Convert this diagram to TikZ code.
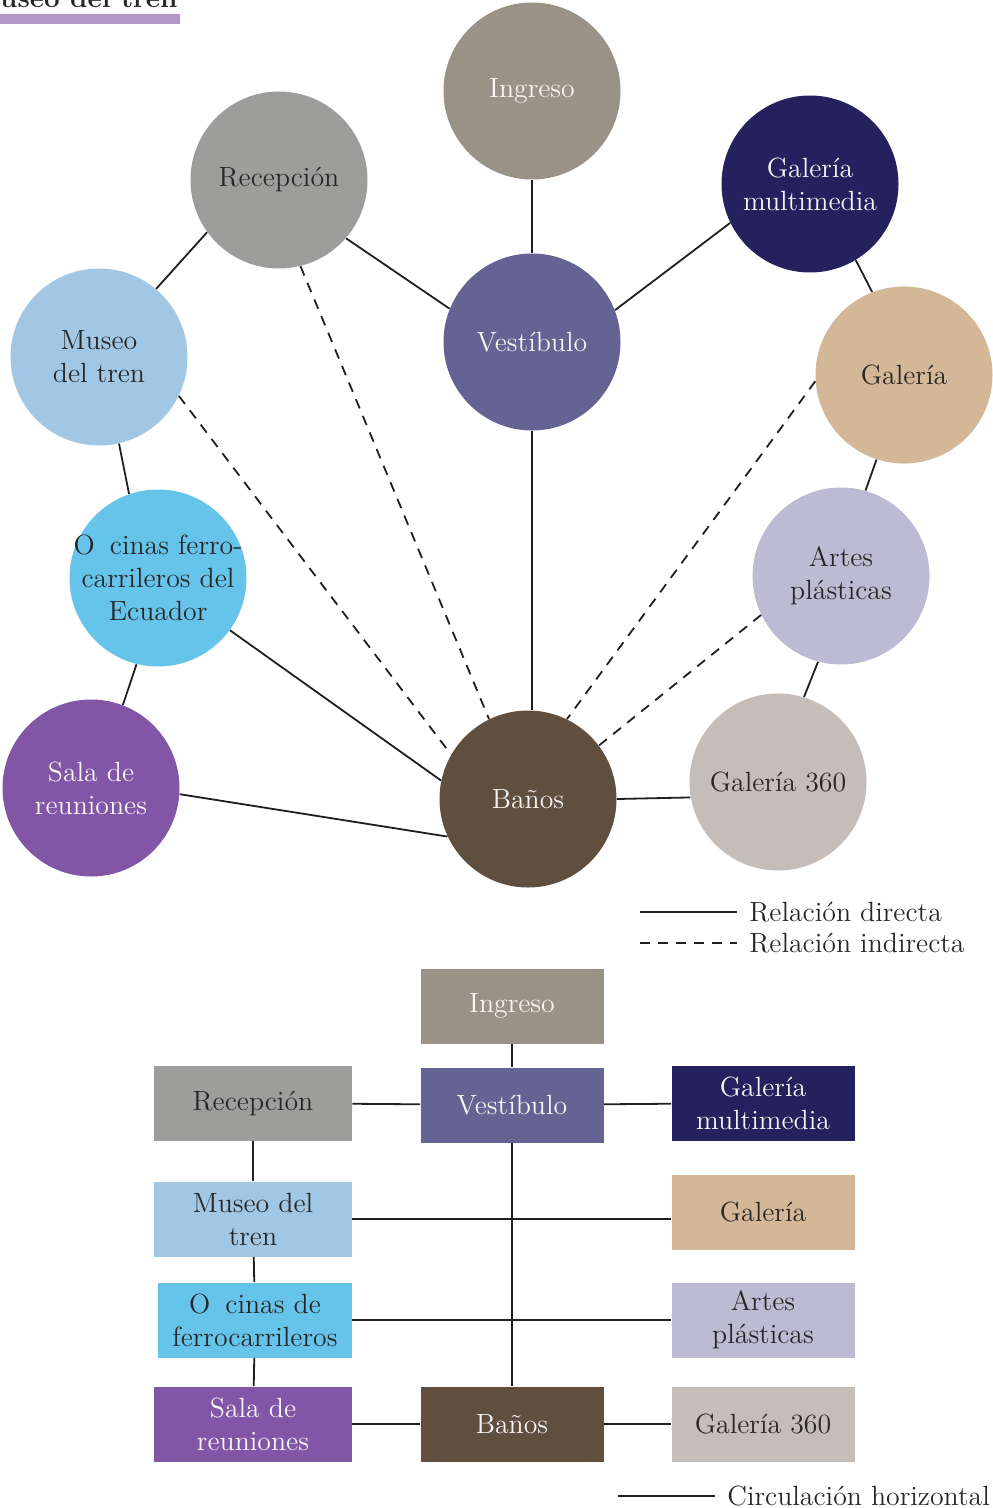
\documentclass[tikz,border=0pt]{standalone}
\usepackage{fontspec}
\usetikzlibrary{positioning}

\definecolor{cIngreso}{HTML}{9B9287}
\definecolor{cRecep}{HTML}{9D9D9C}
\definecolor{cMulti}{HTML}{25205E}
\definecolor{cMuseo}{HTML}{A1C7E4}
\definecolor{cVest}{HTML}{656393}
\definecolor{cGaleria}{HTML}{D4B797}
\definecolor{cOfic}{HTML}{66C3E9}
\definecolor{cArtes}{HTML}{BDBBD3}
\definecolor{cSala}{HTML}{8256A7}
\definecolor{cBanos}{HTML}{604E3F}
\definecolor{cGal360}{HTML}{C4BDB8}
\definecolor{cTitulo}{HTML}{B497C8}
\definecolor{txtOsc}{HTML}{262626}
\definecolor{txtCla}{HTML}{F8F6F4}

% hueco donde falta la ligadura fi
\newcommand{\figap}{\phantom{fi}}

\tikzset{
  zona/.style={circle, minimum size=88.5pt, inner sep=1pt, align=center, text=txtOsc},
  rotulo/.style={inner sep=0pt, align=center, text=txtOsc},
  bloque/.style={rectangle, minimum width=91.5pt, minimum height=37.5pt, inner sep=1pt, align=center, text=txtOsc},
  ancho/.style={minimum width=99pt},
  oscuro/.style={text=txtCla},
  rel/.style={draw=black!88, line width=0.9pt},
  relind/.style={rel, dash pattern=on 5pt off 4pt},
  leyenda/.style={right, inner sep=6pt, text=txtOsc}
}

\begin{document}
\begin{tikzpicture}[x=0.5pt, y=-0.5pt, font=\fontsize{13.9}{16.5}\selectfont]
  \useasboundingbox (0,0) rectangle (992,1508);

  % titulo cortado
  \fill[cTitulo] (0,14) rectangle (180,24);
  \node[anchor=base east, inner sep=0pt, text=txtOsc] (titulo) at (178,8) {\bfseries Museo del tren};

  % diagrama de relaciones
  \node[zona, fill=cIngreso, oscuro] (ingreso) at (532,91) {Ingreso};
  \node[zona, fill=cRecep] (recep) at (279,180) {Recepción};
  \node[zona, fill=cMulti, oscuro] (multi) at (810,184) {Galería\\multimedia};
  \node[zona, fill=cMuseo] (museo) at (99,357) {Museo\\del tren};
  \node[zona, fill=cVest, oscuro] (vest) at (532,342) {Vestíbulo};
  \node[zona, fill=cGaleria] (galeria) at (904,375) {Galería};
  \node[zona, fill=cOfic] (ofic) at (158,578) {};
  \node[rotulo] (ofic-t) at (ofic) {O\figap cinas ferro-\\carrileros del\\Ecuador};
  \node[zona, fill=cArtes] (artes) at (841,576) {Artes\\plásticas};
  \node[zona, fill=cSala, oscuro] (sala) at (91,788) {Sala de\\reuniones};
  \node[zona, fill=cBanos, oscuro] (banos) at (528,799) {Baños};
  \node[zona, fill=cGal360] (gal360) at (778,782) {Galería 360};

  \draw[rel] (ingreso) -- (vest);
  \draw[rel] (recep.-41) -- (vest.158);
  \draw[rel] (recep.-144) -- (museo.50);
  \draw[rel] (vest.21) -- (multi.206);
  \draw[rel] (multi.-59) -- (galeria.111);
  \draw[rel] (galeria.-108) -- (artes.74);
  \draw[rel] (artes.-105) -- (gal360.73);
  \draw[rel] (vest.south) -- (vest.south |- banos.north);
  \draw[rel] (banos.east) -- (gal360.190);
  \draw[rel] (museo.-77) -- (ofic.109);
  \draw[rel] (ofic.-104) -- (sala.69);
  \draw[rel] (ofic.-36) -- (banos.168);
  \draw[rel] (sala.-4) -- (banos.205);
  \draw[relind] (recep.-76) -- (banos.116);
  \draw[relind] (museo.-26) -- (banos.150);
  \draw[relind] (galeria.184) -- (banos.64);
  \draw[relind] (artes.206) -- (banos.37);

  % leyenda
  \coordinate (ley1) at (640,912);
  \coordinate (ley2) at (640,943);
  \node[leyenda] (leyDir) at (737,912) {Relación directa};
  \node[leyenda] (leyInd) at (737,943) {Relación indirecta};
  \draw[rel] (ley1) -- (leyDir.west);
  \draw[relind] (ley2) -- (leyInd.west);

  % esquema de circulacion
  \node[bloque, fill=cIngreso, oscuro] (b-ingreso) at (512,1006) {Ingreso};
  \node[bloque, ancho, fill=cRecep] (b-recep) at (253,1103) {Recepción};
  \node[bloque, fill=cVest, oscuro] (b-vest) at (512,1105) {Vestíbulo};
  \node[bloque, fill=cMulti, oscuro] (b-multi) at (763,1103) {Galería\\multimedia};
  \node[bloque, ancho, fill=cMuseo] (b-museo) at (253,1219) {Museo del\\tren};
  \node[bloque, fill=cGaleria] (b-galeria) at (763,1212) {Galería};
  \node[bloque, minimum width=97pt, fill=cOfic] (b-ofic) at (255,1320) {O\figap cinas de\\ferrocarrileros};
  \node[bloque, fill=cArtes] (b-artes) at (763,1320) {Artes\\plásticas};
  \node[bloque, ancho, fill=cSala, oscuro] (b-sala) at (253,1424) {Sala de\\reuniones};
  \node[bloque, fill=cBanos, oscuro] (b-banos) at (512,1424) {Baños};
  \node[bloque, fill=cGal360] (b-gal360) at (763,1424) {Galería 360};

  \draw[rel] (b-ingreso) -- (b-vest);
  \draw[rel] (b-recep) -- (b-vest);
  \draw[rel] (b-vest) -- (b-multi);
  \draw[rel] (b-recep) -- (b-museo);
  \draw[rel] (b-museo.east) -- (b-museo.east -| b-galeria.west);
  \draw[rel] (b-museo) -- (b-ofic);
  \draw[rel] (b-ofic) -- (b-artes);
  \draw[rel] (b-ofic) -- (b-sala);
  \draw[rel] (b-sala) -- (b-banos);
  \draw[rel] (b-banos) -- (b-gal360);
  \draw[rel] (b-vest) -- (b-banos);

  \coordinate (ley3) at (618,1496);
  \node[leyenda] (leyHor) at (715,1496) {Circulación horizontal};
  \draw[rel] (ley3) -- (leyHor.west);
\end{tikzpicture}
\end{document}
